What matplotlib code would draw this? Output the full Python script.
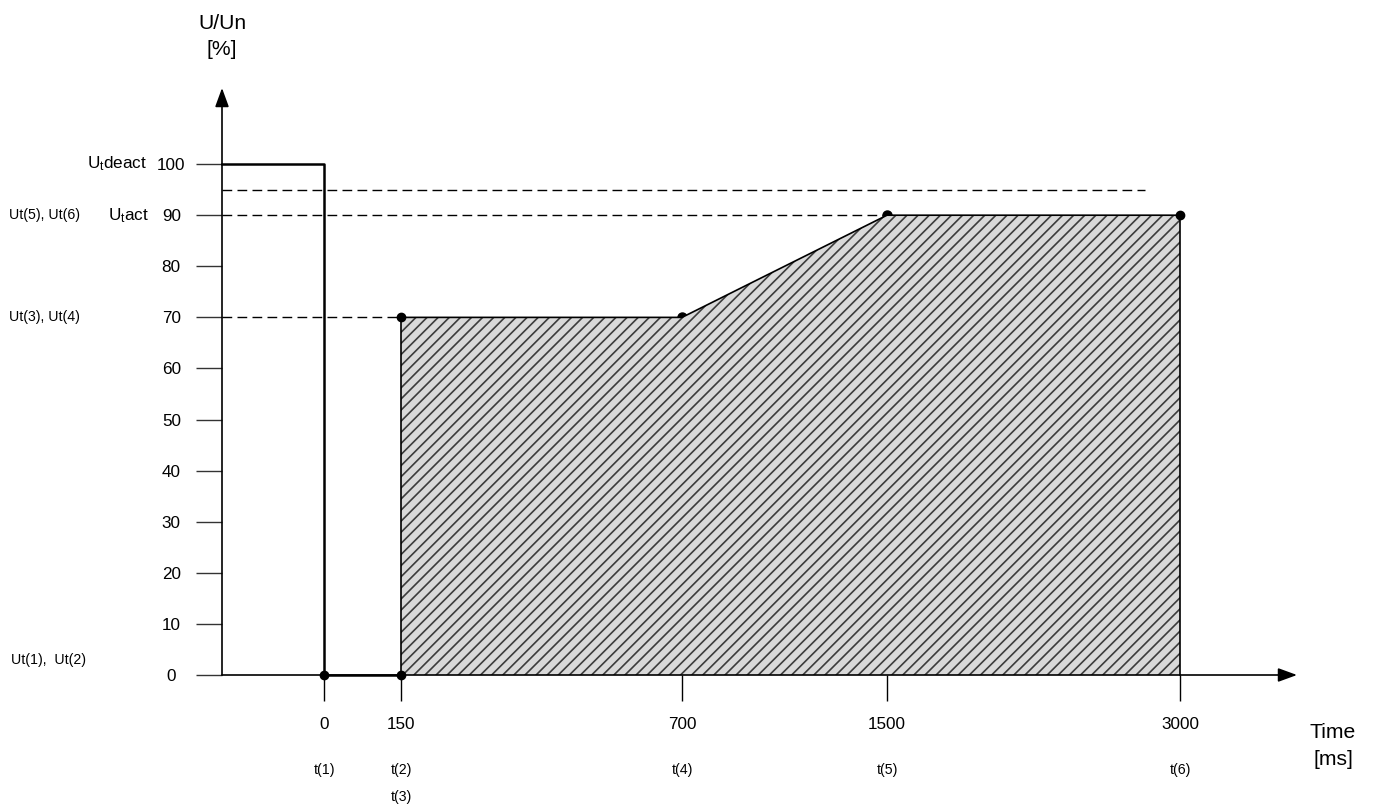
import numpy as np
import matplotlib
matplotlib.use("Agg")
import matplotlib.pyplot as plt
import matplotlib.transforms as mtransforms

plt.rcParams['font.family'] = ['Liberation Sans', 'DejaVu Sans']
plt.rcParams['mathtext.fontset'] = 'custom'
plt.rcParams['mathtext.rm'] = 'Liberation Sans'
plt.rcParams['mathtext.it'] = 'Liberation Sans:italic'
plt.rcParams['hatch.linewidth'] = 1.2

# ---- data ----
tick_times = [0, 150, 700, 1500, 3000]
tick_names = ["t(1)", "t(2)", "t(4)", "t(5)", "t(6)"]
u_ticks = list(range(0, 101, 10))

# voltage drop curve (thick line)
drop_t = [-200, 0, 0, 150]
drop_u = [100, 100, 0, 0]

# shaded area
area_t = [150, 150, 700, 1500, 3000, 3000]
area_u = [0, 70, 70, 90, 90, 0]

# corner points (full dots) and points sitting on the slope (half hidden)
dots_t = [0, 150, 150, 3000]
dots_u = [0, 0, 70, 90]
slope_dots_t = [700, 1500]
slope_dots_u = [70, 90]

# dashed reference levels and where they stop
ref_levels = [70, 90, 95]
ref_ends = [150, 1500, 2820]

t_min, t_max = -200, 3600
u_top = 114.9

# ---- stretched time axis (piecewise) ----
knot_t = np.array([-200, 0, 150, 700, 1500, 3000, 3600], dtype=float)
knot_s = np.array([-102, 0, 77, 358, 563, 856, 973], dtype=float)
k_lo = (knot_s[1] - knot_s[0]) / (knot_t[1] - knot_t[0])
k_hi = (knot_s[-1] - knot_s[-2]) / (knot_t[-1] - knot_t[-2])

def fwd(t):
    t = np.asarray(t, dtype=float)
    s = np.interp(t, knot_t, knot_s)
    s = np.where(t < knot_t[0], knot_s[0] + (t - knot_t[0]) * k_lo, s)
    s = np.where(t > knot_t[-1], knot_s[-1] + (t - knot_t[-1]) * k_hi, s)
    return s

def inv(s):
    s = np.asarray(s, dtype=float)
    t = np.interp(s, knot_s, knot_t)
    t = np.where(s < knot_s[0], knot_t[0] + (s - knot_s[0]) / k_lo, t)
    t = np.where(s > knot_s[-1], knot_t[-1] + (s - knot_s[-1]) / k_hi, t)
    return t

fig = plt.figure(figsize=(13.73, 8.06), dpi=100)
ax = fig.add_axes([222/1373, 131/806, 1075/1373, 587/806])
ax.set_xscale('function', functions=(fwd, inv))
ax.set_xlim(t_min, t_max)
ax.set_ylim(0, u_top)
for sp in ax.spines.values():
    sp.set_visible(False)

# ticks
ax.set_yticks(u_ticks)
ax.set_yticklabels([str(v) for v in u_ticks])
ax.tick_params(axis='y', direction='out', length=18.5, width=1, pad=18, labelsize=12.3,
               color='#333333')
for lab in ax.get_yticklabels():
    lab.set_horizontalalignment('center')
ax.set_xticks(tick_times)
ax.set_xticklabels([str(v) for v in tick_times])
ax.tick_params(axis='x', direction='out', length=18.5, width=1, pad=12, labelsize=12.3)
ax.xaxis.set_minor_locator(matplotlib.ticker.NullLocator())

# dots on the slope, partly covered by the area
ax.plot(slope_dots_t, slope_dots_u, 'o', color='black', ms=6.5, zorder=1.5, clip_on=False)

# shaded area
ax.fill(area_t, area_u, facecolor='#d9d9d9', edgecolor='#3c3c3c', hatch='///', lw=0, zorder=2)
ax.plot(area_t, area_u, color='black', lw=1.2, zorder=3, clip_on=False)

# dashed levels
for lev, end in zip(ref_levels, ref_ends):
    ax.plot([t_min, end], [lev, lev], color='black', lw=1, ls=(0, (7, 3.8)), zorder=1, clip_on=False)

# voltage drop line
ax.plot(drop_t, drop_u, color='black', lw=1.8, zorder=4, clip_on=False)

# dots
ax.plot(dots_t, dots_u, 'o', color='black', ms=6, zorder=5, clip_on=False)

# axis arrows
arrow = dict(arrowstyle="-|>,head_length=1.15,head_width=0.42", mutation_scale=10,
             lw=1.2, color='black', shrinkA=0, shrinkB=0)
ax.annotate("", xy=(t_min, u_top), xytext=(t_min, 0), arrowprops=arrow, annotation_clip=False)
ax.annotate("", xy=(t_max, 0), xytext=(t_min, 0), arrowprops=arrow, annotation_clip=False)

# axis titles
ax.text(t_min, 127.6, "U/Un", ha='center', va='center', fontsize=15.2)
ax.text(t_min, 122.5, "[%]", ha='center', va='center', fontsize=15.2)
fig_x = mtransforms.blended_transform_factory(fig.transFigure, ax.transData)
ax.text(1333/1373, -11.2, "Time", ha='center', va='center', fontsize=15.2, transform=fig_x)
ax.text(1333/1373, -16.6, "[ms]", ha='center', va='center', fontsize=15.2, transform=fig_x)

# level names
ax.text(147/1373, 100, r"U$_\mathrm{t}$deact", ha='right', va='center', fontsize=12.3, transform=fig_x)
ax.text(149/1373, 90, r"U$_\mathrm{t}$act", ha='right', va='center', fontsize=12.3, transform=fig_x)
ax.text(9/1373, 90, "Ut(5), Ut(6)", ha='left', va='center', fontsize=10.2, transform=fig_x)
ax.text(9/1373, 70, "Ut(3), Ut(4)", ha='left', va='center', fontsize=10.2, transform=fig_x)
ax.text(11/1373, 3, "Ut(1),  Ut(2)", ha='left', va='center', fontsize=10.2, transform=fig_x)

# time point names
for t, name in zip(tick_times, tick_names):
    ax.text(t, -18.5, name, ha='center', va='center', fontsize=10.2)
ax.text(150, -23.9, "t(3)", ha='center', va='center', fontsize=10.2)

fig.savefig("out.png", dpi=100)
